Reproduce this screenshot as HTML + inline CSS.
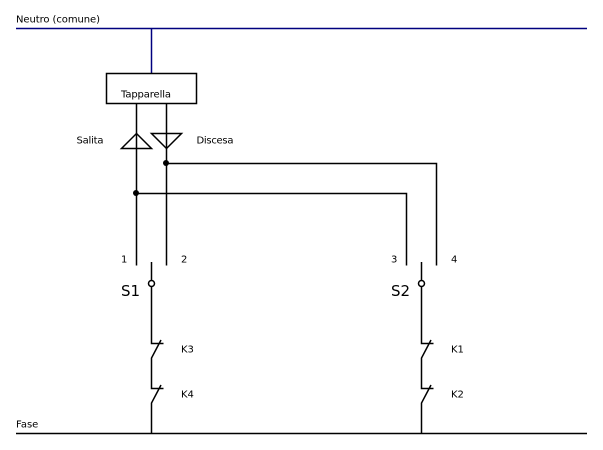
<!DOCTYPE html>
<html><head><meta charset="utf-8"><style>
html,body{margin:0;padding:0;background:#fff}
svg{display:block}
text{font-family:"DejaVu Sans",sans-serif;font-size:10px;fill:#000}
</style></head><body>
<svg width="603" height="450" viewBox="0 0 603 450" xmlns="http://www.w3.org/2000/svg">
<rect width="603" height="450" fill="#fff"/>
<g fill="none" stroke="#00007f" stroke-width="1.5">
<path d="M16 28.5H587"/><path d="M151.500 28V73"/>
</g>
<g fill="none" stroke="#000" stroke-width="1.5">
<rect x="106.500" y="73.500" width="90" height="30"/>
<path d="M136.500 103.500V265.500M166.500 103.500V265.500"/>
<path d="M121.500 148.500H151.500L136.500 133.500Z"/>
<path d="M151.500 133.500H181.500L166.500 148.500Z"/>
<path d="M166 163.500H436.500V265.500M136 193.500H406.500V265.500"/>
<path d="M16 433.500H587"/>
<path d="M151.500 262V280M151.500 286.500V343.500H163.500M161 340L151.500 358V388.500H163.500M161 385L151.500 403V433"/>
<circle cx="151.500" cy="283.500" r="3"/>
<path d="M421.500 262V280M421.500 286.500V343.500H433.500M431 340L421.500 358V388.500H433.500M431 385L421.500 403V433"/>
<circle cx="421.500" cy="283.500" r="3"/>
</g>
<circle cx="166" cy="163" r="3"/>
<circle cx="136" cy="193" r="3"/>
<text x="16" y="22.500" textLength="84">Neutro (comune)</text>
<text x="121" y="97.500" textLength="50">Tapparella</text>
<text x="76.500" y="143.500" textLength="27">Salita</text>
<text x="196.500" y="143.500" textLength="37">Discesa</text>
<text x="121" y="262.500">1</text>
<text x="181" y="262.500">2</text>
<text x="391" y="262.500">3</text>
<text x="451" y="262.500">4</text>
<text x="121" y="296" style="font-size:15px">S1</text>
<text x="391" y="296" style="font-size:15px">S2</text>
<text x="181" y="352.500">K3</text>
<text x="181" y="397.500">K4</text>
<text x="451" y="352.500">K1</text>
<text x="451" y="397.500">K2</text>
<text x="16" y="427.500">Fase</text>
</svg>
</body></html>
